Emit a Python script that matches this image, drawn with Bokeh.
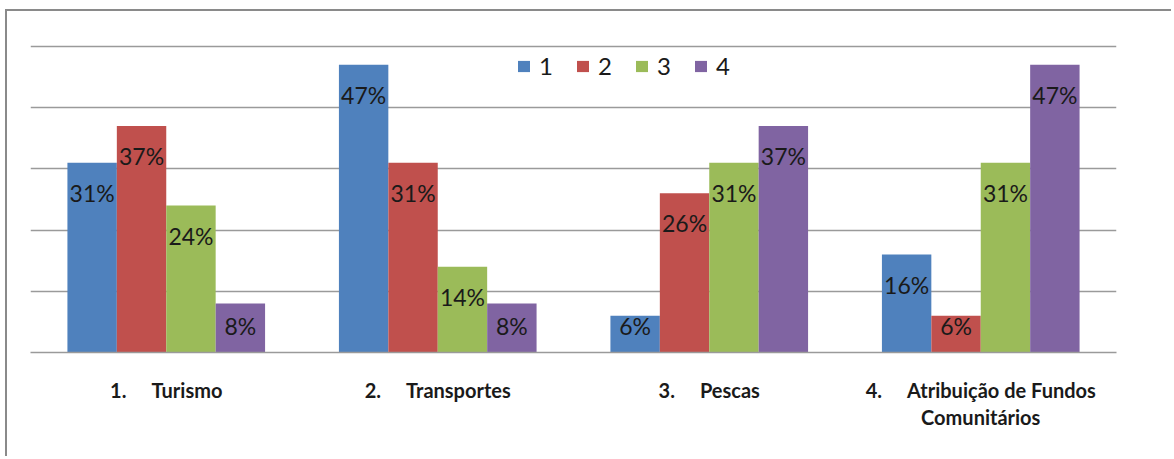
from bokeh.plotting import figure
from bokeh.models import ColumnDataSource, FactorRange, Legend, LegendItem
from bokeh.transform import dodge
from bokeh.core.properties import value
from bokeh.embed import file_html
from bokeh.resources import INLINE

# ---- data ----
categories = [
    "1.\u2003\u2002Turismo",
    "2.\u2003\u2002Transportes",
    "3.\u2003\u2002Pescas",
    "4.\u2003\u2002Atribuição de Fundos\nComunitários",
]
series_names = ["1", "2", "3", "4"]
s1 = [31, 47, 6, 16]
s2 = [37, 31, 26, 6]
s3 = [24, 14, 31, 31]
s4 = [8, 8, 37, 47]
colors = ["#4F81BD", "#C0504D", "#9BBB59", "#8064A2"]

series = [s1, s2, s3, s4]
offsets = [-0.273, -0.091, 0.091, 0.273]
bar_w = 0.182

W, H = 1166, 447
top_b = 33
frame_h = 308
left_b = 23
p = figure(
    x_range=FactorRange(*categories), y_range=(0, 50.3),
    width=W, height=H, output_backend="svg", toolbar_location=None,
    min_border_left=left_b, min_border_right=W - left_b - 1086,
    min_border_top=top_b, min_border_bottom=H - top_b - frame_h,
)
p.styles = {"border-left": "2px solid #8a8a8a", "border-top": "2px solid #8a8a8a",
            "margin-left": "5px", "margin-top": "9px"}
p.outline_line_color = None
p.yaxis.visible = False
p.xgrid.grid_line_color = None
p.ygrid.grid_line_color = "#9a9a9a"
p.ygrid.grid_line_width = 1.5
p.yaxis.ticker = [0, 10, 20, 30, 40, 50]

p.xaxis.axis_line_color = "#9a9a9a"
p.xaxis.axis_line_width = 1.5
p.xaxis.major_tick_line_color = None
p.xaxis.minor_tick_line_color = None
p.xaxis.major_label_standoff = 19
p.xaxis.major_label_text_font = "Lato"
p.xaxis.major_label_text_font_size = "20px"
p.xaxis.major_label_text_font_style = "bold"
p.xaxis.major_label_text_color = "#1a1a1a"
p.xaxis.major_label_text_line_height = 1.15
p.xaxis.major_label_orientation = "horizontal"

items = []
for name, vals, off, col in zip(series_names, series, offsets, colors):
    ly = [max(v - 4.9, 4.4) for v in vals]
    src = ColumnDataSource(dict(x=categories, top=vals, ly=ly,
                                lab=[f"{v}%" for v in vals]))
    r = p.vbar(x=dodge("x", off, range=p.x_range), top="top", width=bar_w,
               source=src, fill_color=col, line_color=None)
    p.text(x=dodge("x", off, range=p.x_range), y="ly", text="lab", source=src,
           text_align="center", text_baseline="middle",
           text_font=value("Lato"), text_font_size="23px", text_color="#1a1a1a")
    items.append(LegendItem(label=name, renderers=[r]))

legend = Legend(items=items, orientation="horizontal", location=(486, 272),
                border_line_color=None, background_fill_alpha=0,
                padding=0, margin=0, spacing=16, label_standoff=8,
                glyph_width=15, glyph_height=14,
                label_text_font="Lato", label_text_font_size="24px",
                label_text_color="#1a1a1a")
p.add_layout(legend, "center")

open("out.html", "w").write(file_html(p, INLINE))
